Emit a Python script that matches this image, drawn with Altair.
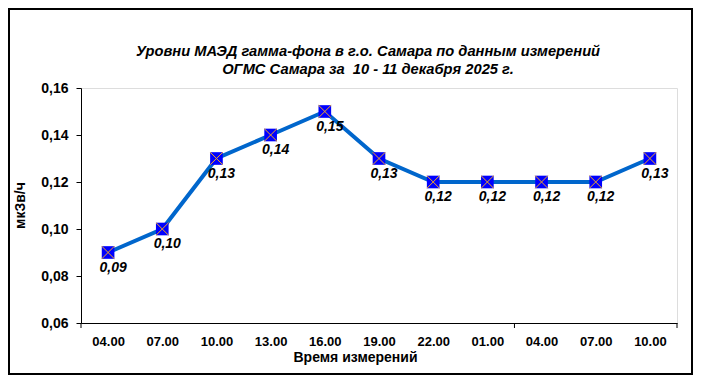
import altair as alt
import pandas as pd

times = ["04.00", "07.00", "10.00", "13.00", "16.00", "19.00", "22.00",
         "01.00", "04.00", "07.00", "10.00"]
values = [0.09, 0.10, 0.13, 0.14, 0.15, 0.13, 0.12, 0.12, 0.12, 0.12, 0.13]
y_ticks = [0.06, 0.08, 0.10, 0.12, 0.14, 0.16]
x_group_ticks = [0, 8, 11]

FONT = "Liberation Sans"
W, H = 596, 235

df = pd.DataFrame({"pos": [i + 0.5 for i in range(len(values))],
                   "v": values, "t": times})
ticks_df = pd.DataFrame({"tx": x_group_ticks})

label_arr = "[" + ",".join("'" + t + "'" for t in times) + "]"

x_enc = alt.X("pos:Q", scale=alt.Scale(domain=[0, 11], nice=False, zero=False),
              axis=alt.Axis(values=[i + 0.5 for i in range(len(times))],
                            labelExpr=label_arr + "[floor(datum.value)]",
                            ticks=False, grid=False, domainColor="black",
                            labelFont=FONT, labelFontSize=13, labelFontWeight="bold",
                            labelColor="black", labelPadding=12,
                            title="Время измерений", titleFont=FONT, titleFontSize=14,
                            titleFontWeight="bold", titleColor="black",
                            titleX=274, titleY=34, titleBaseline="middle",
                            titleAlign="center"))
y_enc = alt.Y("v:Q", scale=alt.Scale(domain=[0.06, 0.16], nice=False, zero=False),
              axis=alt.Axis(values=y_ticks,
                            labelExpr="replace(format(datum.value, '.2f'), '.', ',')",
                            grid=False, tickSize=5, tickColor="black", domainColor="black",
                            labelFont=FONT, labelFontSize=14, labelFontWeight="bold",
                            labelColor="black", labelPadding=8,
                            title="мкЗв/ч", titleFont=FONT, titleFontSize=14,
                            titleFontWeight="bold", titleColor="black",
                            titleX=-61, titleY=117, titleBaseline="middle",
                            titleAlign="center", titleAngle=270))

base = alt.Chart(df)

line = base.mark_line(color="#0066CC", strokeWidth=4).encode(x=x_enc, y=y_enc)
squares = base.mark_point(shape="square", filled=True, color="#0000FF", size=160,
                          opacity=1).encode(x="pos:Q", y="v:Q")
crosses = base.mark_point(shape="M-1,-1L1,1M-1,1L1,-1", filled=False,
                          stroke="#F5A623", strokeWidth=1, size=160,
                          opacity=1).encode(x="pos:Q", y="v:Q")
labels = base.transform_calculate(
    lab="replace(format(datum.v, '.2f'), '.', ',')"
).mark_text(font=FONT, fontSize=14, fontWeight="bold", fontStyle="italic",
            color="black", dx=5, dy=15, align="center", baseline="middle"
).encode(x="pos:Q", y="v:Q", text="lab:N")

group_ticks = alt.Chart(ticks_df).mark_rule(color="black", strokeWidth=1).encode(
    x="tx:Q", y=alt.value(H), y2=alt.value(H + 5))

border = alt.Chart(ticks_df.head(1)).mark_rect(
    fill=None, stroke="black", strokeWidth=2
).encode(x=alt.value(-72), x2=alt.value(W + 15), y=alt.value(-79), y2=alt.value(H + 51))

chart = alt.layer(border, line, squares, crosses, labels, group_ticks).properties(
    width=W, height=H,
    padding={"left": 73, "top": 80, "right": 16, "bottom": 52},
    autosize=alt.AutoSizeParams(type="none"),
    title=alt.TitleParams(
        text=["Уровни МАЭД гамма-фона в г.о. Самара по данным измерений",
              "ОГМС Самара за\u00a0 10 - 11 декабря 2025 г."],
        font=FONT, fontSize=14.7, fontWeight="bold", fontStyle="italic",
        color="black", anchor="middle", frame="group", dx=-11, offset=-69,
        lineHeight=18),
).configure_view(stroke="black", strokeWidth=1).configure(background="white")

chart.save("out.html", embed_options={"renderer": "svg", "actions": False})
